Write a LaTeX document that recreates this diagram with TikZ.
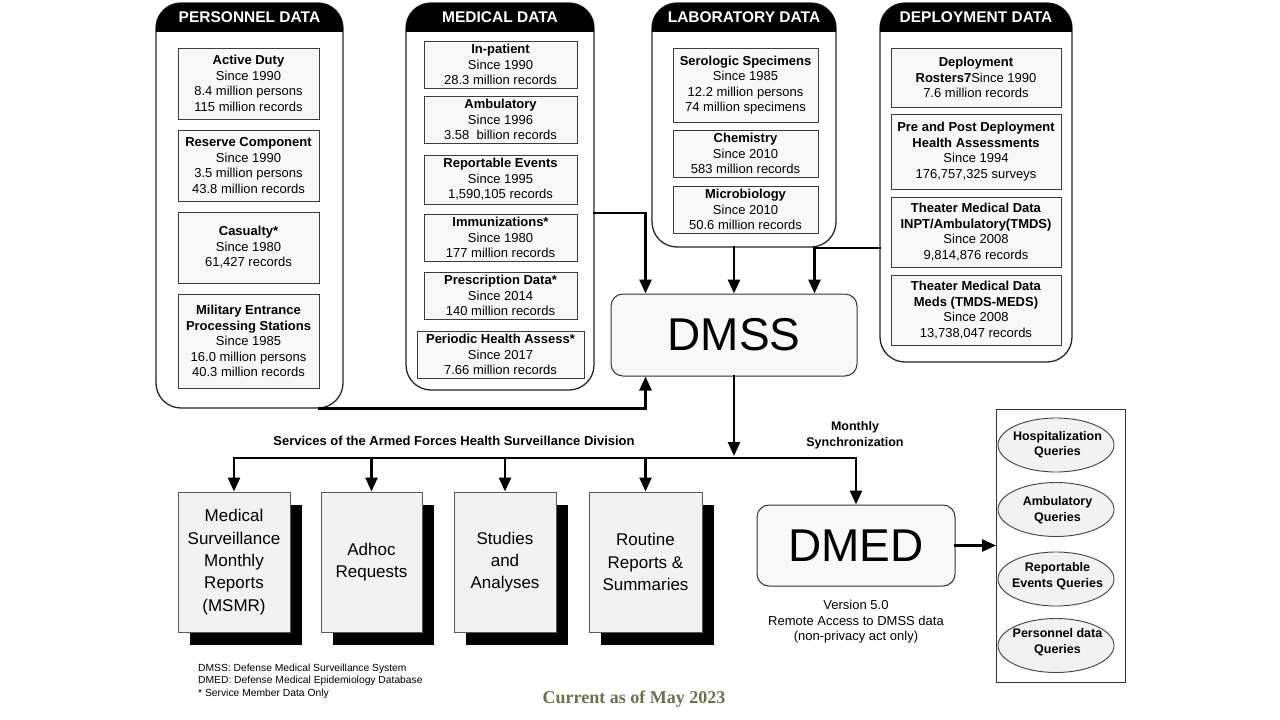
\documentclass[tikz,border=0pt]{standalone}
\usepackage{fontspec}
\setmainfont{Liberation Sans}
\newfontfamily\seriffam{Liberation Serif}
\usetikzlibrary{arrows.meta,shapes.geometric,shadows,calc}
\definecolor{boxfill}{RGB}{248,248,248}
\definecolor{boxline}{RGB}{60,60,60}
\definecolor{curcol}{RGB}{108,113,82}
\begin{document}
\begin{tikzpicture}[x=1pt,y=-1pt,
  panel/.style={draw=black!85, line width=1.3pt, rounded corners=25pt, fill=white, inner sep=0pt},
  hdr/.style={text=white, font=\bfseries\fontsize{15.5}{18}\selectfont},
  ibox/.style={draw=boxline, fill=boxfill, line width=0.9pt, align=center, inner sep=0pt, font=\fontsize{13}{15.5}\selectfont},
  bigbox/.style={draw=black!80, fill=boxfill, line width=1pt, rounded corners=12pt, inner sep=0pt, font=\fontsize{46}{50}\selectfont},
  svcbox/.style={draw=black!65, fill=black!5, line width=1pt, align=center, inner sep=0pt, font=\fontsize{17}{22.3}\selectfont,
    drop shadow={shadow xshift=12pt, shadow yshift=-13pt, fill=black, opacity=1}},
  query/.style={ellipse, draw=black!75, fill=black!5, line width=0.9pt, inner sep=0pt, minimum width=116pt, minimum height=54pt},
  qtext/.style={align=center, inner sep=0pt, font=\bfseries\fontsize{12.5}{15.5}\selectfont},
  arr/.style={line width=2.6pt, line cap=rect, -{Triangle[width=12pt,length=14pt]}},
  conn/.style={line width=2.6pt, line cap=rect}
]
\useasboundingbox (0,0) rectangle (1280,720);
\fill[white] (0,0) rectangle (1280,720);

% ---------- Panels ----------
\node[panel, minimum width=187pt, minimum height=405pt] (pers) at (249.5,205.5) {};
\begin{scope}\clip[rounded corners=25pt] (156,3) rectangle (343,408); \fill[black] (156,0) rectangle (343,32);\end{scope}
\node[hdr] (persh) at (249.5,17) {PERSONNEL DATA};

\node[panel, minimum width=188pt, minimum height=387pt] (med) at (500,196.5) {};
\begin{scope}\clip[rounded corners=25pt] (406,3) rectangle (594,390); \fill[black] (406,0) rectangle (594,32);\end{scope}
\node[hdr] (medh) at (500,17) {MEDICAL DATA};

\node[panel, minimum width=184pt, minimum height=244pt] (lab) at (744,125) {};
\begin{scope}\clip[rounded corners=25pt] (652,3) rectangle (836,247); \fill[black] (652,0) rectangle (836,32);\end{scope}
\node[hdr] (labh) at (744,17) {LABORATORY DATA};

\node[panel, minimum width=192pt, minimum height=359pt] (dep) at (976,182.5) {};
\begin{scope}\clip[rounded corners=25pt] (880,3) rectangle (1072,362); \fill[black] (880,0) rectangle (1072,32);\end{scope}
\node[hdr] (deph) at (976,17) {DEPLOYMENT DATA};

% ---------- Personnel boxes ----------
\node[ibox, minimum width=141pt, minimum height=71pt] (ad) at (248.5,83.5) {\textbf{Active Duty}\\Since 1990\\8.4 million persons\\115 million records};
\node[ibox, minimum width=141pt, minimum height=71pt] (rc) at (248.5,165.5) {\textbf{Reserve Component}\\Since 1990\\3.5 million persons\\43.8 million records};
\node[ibox, minimum width=141pt, minimum height=71pt] (cas) at (248.5,247.5) {\textbf{Casualty*}\\Since 1980\\61,427 records};
\node[ibox, minimum width=141pt, minimum height=94pt] (meps) at (248.5,341) {\textbf{Military Entrance}\\\textbf{Processing Stations}\\Since 1985\\16.0 million persons\\40.3 million records};

% ---------- Medical boxes ----------
\node[ibox, minimum width=153pt, minimum height=47pt] (inp) at (500.5,64.5) {\textbf{In-patient}\\Since 1990\\28.3 million records};
\node[ibox, minimum width=153pt, minimum height=47pt] (amb) at (500.5,119.5) {\textbf{Ambulatory}\\Since 1996\\3.58\ \ billion records};
\node[ibox, minimum width=153pt, minimum height=49pt] (rep) at (500.5,179.5) {\textbf{Reportable Events}\\Since 1995\\1,590,105 records};
\node[ibox, minimum width=153pt, minimum height=47pt] (imm) at (500.5,237.5) {\textbf{Immunizations*}\\Since 1980\\177 million records};
\node[ibox, minimum width=153pt, minimum height=47pt] (pre) at (500.5,295.5) {\textbf{Prescription Data*}\\Since 2014\\140 million records};
\node[ibox, minimum width=167pt, minimum height=47pt] (per) at (500.5,354.5) {\textbf{Periodic Health Assess*}\\Since 2017\\7.66 million records};

% ---------- Laboratory boxes ----------
\node[ibox, minimum width=145pt, minimum height=74pt] (ser) at (745.5,85) {\textbf{Serologic Specimens}\\Since 1985\\12.2 million persons\\74 million specimens};
\node[ibox, minimum width=145pt, minimum height=47pt] (chem) at (745.5,153.5) {\textbf{Chemistry}\\Since 2010\\583 million records};
\node[ibox, minimum width=145pt, minimum height=47pt] (micro) at (745.5,209.5) {\textbf{Microbiology}\\Since 2010\\50.6 million records};

% ---------- Deployment boxes ----------
\node[ibox, minimum width=170pt, minimum height=59pt] (ros) at (976,77.5) {\textbf{Deployment}\\\textbf{Rosters7}Since 1990\\7.6 million records};
\node[ibox, minimum width=170pt, minimum height=75pt] (pp) at (976,151.5) {\textbf{Pre and Post Deployment}\\\textbf{Health Assessments}\\Since 1994\\176,757,325 surveys};
\node[ibox, minimum width=170pt, minimum height=70pt] (tmds) at (976,232) {\textbf{Theater Medical Data}\\\textbf{INPT/Ambulatory(TMDS)}\\Since 2008\\9,814,876 records};
\node[ibox, minimum width=170pt, minimum height=70pt] (meds) at (976,310) {\textbf{Theater Medical Data}\\\textbf{Meds (TMDS-MEDS)}\\Since 2008\\13,738,047 records};

% ---------- DMSS / DMED ----------
\node[bigbox, minimum width=246pt, minimum height=82pt] (dmss) at (734,335) {DMSS};
\node[bigbox, minimum width=198pt, minimum height=81pt] (dmed) at (856,545.5) {DMED};

% ---------- Service boxes ----------
\node[svcbox, minimum width=112pt, minimum height=140pt] (msmr) at (234,562) {Medical\\Surveillance\\Monthly\\Reports\\(MSMR)};
\node[svcbox, minimum width=101pt, minimum height=140pt] (adhoc) at (371.5,562) {Adhoc\\Requests};
\node[svcbox, minimum width=102pt, minimum height=140pt] (stud) at (505,562) {Studies\\and\\Analyses};
\node[svcbox, minimum width=113pt, minimum height=140pt] (rout) at (645.5,562) {Routine\\Reports \&\\Summaries};

% ---------- Query panel ----------
\node[draw=black!80, line width=0.9pt, minimum width=129pt, minimum height=273pt, inner sep=0pt] (qp) at (1061,545.5) {};
\node[query] (q1) at (1056,445) {};
\node[qtext] (q1t) at (1057.5,444.5) {Hospitalization\\Queries};
\node[query] (q2) at (1056,509.5) {};
\node[qtext] (q2t) at (1057.5,510) {Ambulatory\\Queries};
\node[query] (q3) at (1056,579) {};
\node[qtext] (q3t) at (1057.5,576) {Reportable\\Events Queries};
\node[query] (q4) at (1056,645.5) {};
\node[qtext] (q4t) at (1057.5,642) {Personnel data\\Queries};

% ---------- Connectors ----------
\coordinate (medout) at (med.east |- 0,213);
\coordinate (depout) at (dep.west |- 0,248);
\coordinate (persout) at ([xshift=70pt]pers.south);
\coordinate (busl) at (msmr.north |- 0,458);
\draw[arr] (medout) -| ([xshift=35pt]dmss.north west);
\draw[arr] (dmss.north |- lab.south) -- (dmss.north);
\draw[arr] (depout) -| ([xshift=-43pt]dmss.north east);
\draw[arr] (persout) -| ([xshift=35pt]dmss.south west);
\draw[arr] (dmss.south) -- (dmss.south |- 0,456);
\draw[arr] (busl) -| (dmed.north);
\draw[arr] (busl) -- (msmr.north);
\draw[arr] (adhoc.north |- busl) -- (adhoc.north);
\draw[arr] (stud.north |- busl) -- (stud.north);
\draw[arr] (rout.north |- busl) -- (rout.north);
\draw[arr] (dmed.east) -- (qp.west |- dmed.east);

% ---------- Labels ----------
\node[font=\bfseries\fontsize{13}{15}\selectfont] (svc) at (454,441) {Services of the Armed Forces Health Surveillance Division};
\node[align=center, font=\bfseries\fontsize{12.5}{16}\selectfont] (sync) at (855,435) {Monthly\\Synchronization};
\node[align=center, font=\fontsize{13}{15.5}\selectfont] (ver) at (856,622) {Version 5.0\\Remote Access to DMSS data\\(non-privacy act only)};
\node[anchor=west, align=left, inner sep=0pt, font=\fontsize{10.3}{12.5}\selectfont] (fn) at (198,681) {DMSS: Defense Medical Surveillance System\\DMED: Defense Medical Epidemiology Database\\* Service Member Data Only};
\node[text=curcol, font=\seriffam\bfseries\fontsize{18}{20}\selectfont] (cur) at (634,699) {Current as of May 2023};
\end{tikzpicture}
\end{document}
